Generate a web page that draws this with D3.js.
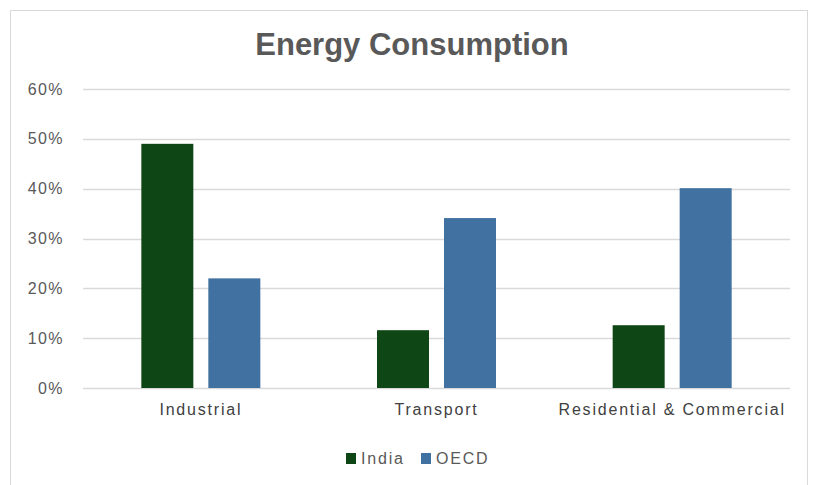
<!DOCTYPE html>
<html>
<head>
<meta charset="utf-8">
<script src="https://cdn.jsdelivr.net/npm/d3@7"></script>
<style>
  body { margin: 0; background: #fff; }
  svg text { font-family: "Liberation Sans", Arial, sans-serif; }
</style>
</head>
<body>
<div id="chart"></div>
<script>
var categories = ["Industrial", "Transport", "Residential & Commercial"];
var seriesNames = ["India", "OECD"];
var india = [0.49, 0.116, 0.126];
var oecd = [0.22, 0.341, 0.401];
var yTicks = [0, 0.1, 0.2, 0.3, 0.4, 0.5, 0.6];
var colors = ["#0e4616", "#4171a0"];

var width = 820, height = 485;
var plotLeft = 83, plotRight = 790, plotTop = 89, plotBottom = 388;

var svg = d3.select("#chart").append("svg")
  .attr("width", width)
  .attr("height", height);

// outer chart frame
svg.append("rect")
  .attr("x", 10.5).attr("y", 10.5)
  .attr("width", 797).attr("height", 500)
  .attr("fill", "#fff")
  .attr("stroke", "#d9d9d9");

svg.append("text")
  .attr("x", 412).attr("y", 55)
  .attr("text-anchor", "middle")
  .attr("font-size", 31)
  .attr("font-weight", "bold")
  .attr("fill", "#595959")
  .text("Energy Consumption");

var x = d3.scaleBand().domain(categories).range([plotLeft, plotRight]).paddingInner(0).paddingOuter(0);
var y = d3.scaleLinear().domain([0, 0.6]).range([plotBottom, plotTop]);

// gridlines
svg.append("g").selectAll("line")
  .data(yTicks)
  .enter().append("line")
  .attr("x1", plotLeft).attr("x2", plotRight)
  .attr("y1", function(d){ return Math.round(y(d)) + 0.5; })
  .attr("y2", function(d){ return Math.round(y(d)) + 0.5; })
  .attr("stroke", "#d9d9d9")
  .attr("stroke-width", 1.5);

// y axis labels
var yAxis = d3.axisLeft(y).tickValues(yTicks).tickSize(0).tickPadding(0).tickFormat(d3.format(".0%"));
var yg = svg.append("g").attr("transform", "translate(64,0)").call(yAxis);
yg.select(".domain").remove();
yg.selectAll("text")
  .attr("font-size", 16)
  .attr("letter-spacing", 1.4)
  .attr("fill", "#595959")
  .style("font-family", "'Liberation Sans', Arial, sans-serif");

// bars
var inner = d3.scaleBand().domain(seriesNames).range([0, 119]).paddingInner(15 / 67);
var off = (x.bandwidth() - 119) / 2;
var data = [india, oecd];

var groups = svg.append("g").selectAll("g")
  .data(seriesNames)
  .enter().append("g")
  .attr("fill", function(d, i){ return colors[i]; });

groups.selectAll("rect")
  .data(function(d, i){ return data[i].map(function(v, j){ return {s: d, c: categories[j], v: v}; }); })
  .enter().append("rect")
  .attr("x", function(d){ return x(d.c) + off + inner(d.s); })
  .attr("width", inner.bandwidth())
  .attr("y", function(d){ return y(d.v); })
  .attr("height", function(d){ return y(0) - y(d.v); });

// x axis labels
var xAxis = d3.axisBottom(x).tickSize(0).tickPadding(0);
var xg = svg.append("g").attr("transform", "translate(0,404)").call(xAxis);
xg.select(".domain").remove();
xg.selectAll("text")
  .attr("dy", "0.71em")
  .attr("font-size", 16)
  .attr("letter-spacing", 1.8)
  .attr("fill", "#404040")
  .style("font-family", "'Liberation Sans', Arial, sans-serif");

// legend
var legendX = [346, 421];
var lg = svg.append("g").selectAll("g")
  .data(seriesNames)
  .enter().append("g")
  .attr("transform", function(d, i){ return "translate(" + legendX[i] + ",453)"; });
lg.append("rect")
  .attr("width", 10).attr("height", 11)
  .attr("fill", function(d, i){ return colors[i]; });
lg.append("text")
  .attr("x", 15).attr("y", 11)
  .attr("font-size", 16)
  .attr("letter-spacing", 1.8)
  .attr("fill", "#595959")
  .text(function(d){ return d; });
</script>
</body>
</html>
